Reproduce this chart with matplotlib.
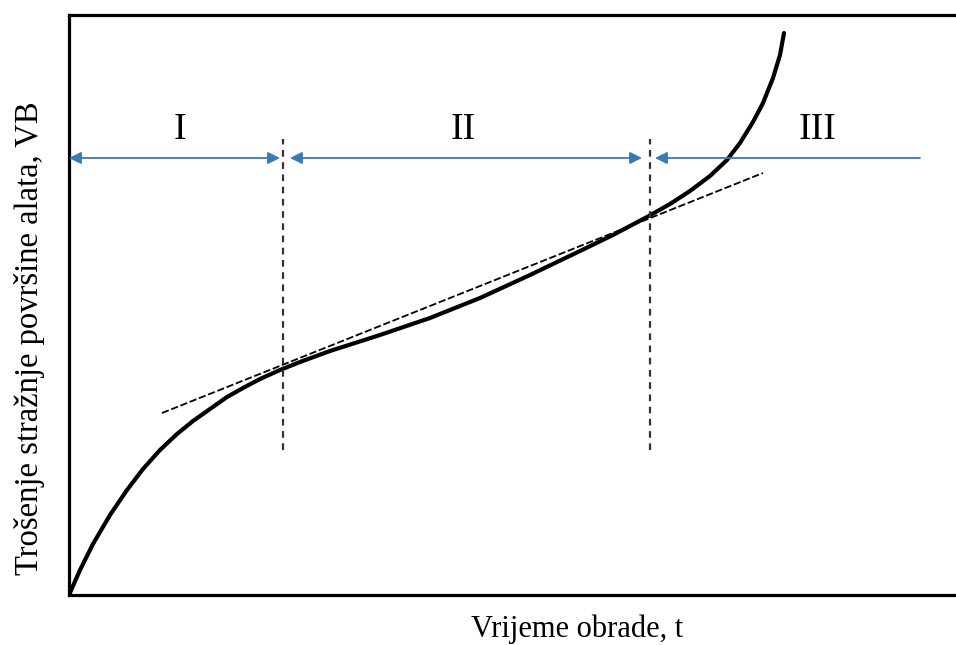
import matplotlib
matplotlib.use('Agg')
import matplotlib.pyplot as plt

# tool wear curve (arbitrary units)
time = [0, 11, 24, 41, 58, 74, 91, 108, 124, 141, 158, 174, 191, 211, 231, 261, 311,
        361, 411, 461, 511, 544, 578, 601, 621, 641, 658, 671, 684, 694, 704, 711, 715]
wear = [0, 25, 51, 80, 105, 126, 145, 161, 174, 186, 198, 207, 216, 225, 233, 244, 260,
        277, 297, 320, 344, 360, 378, 391, 404, 419, 435, 452, 473, 492, 517, 540, 562]

# tangent line of the steady-state region
tan_t = [93, 694]
tan_vb = [182, 422]

# zone boundaries and labels
bounds = [214, 581]
zone_names = ['I', 'II', 'III']
zone_x = [111, 394, 749]

blue = '#3b78b6'
serif = 'Liberation Serif'

fig = plt.figure(figsize=(9.56, 6.45), dpi=100)
ax = fig.add_axes([69 / 956, 50 / 645, 887 / 956, 580 / 645])
ax.set_xlim(0, 887)
ax.set_ylim(0, 580)

ax.plot(time, wear, color='black', lw=3, solid_capstyle='round', solid_joinstyle='round')
ax.plot(tan_t, tan_vb, color='black', lw=1.3, dashes=(4, 1.5))
for b in bounds:
    ax.plot([b, b], [145, 456], color='#333333', lw=1.6, dashes=(3, 2.5))

# arrows for the three zones
arrow_y = 437
ax.annotate('', xy=(0, arrow_y), xytext=(211, arrow_y),
            arrowprops=dict(arrowstyle='<|-|>', color=blue, lw=1.3, mutation_scale=18,
                            shrinkA=0, shrinkB=0))
ax.annotate('', xy=(221, arrow_y), xytext=(573, arrow_y),
            arrowprops=dict(arrowstyle='<|-|>', color=blue, lw=1.3, mutation_scale=18,
                            shrinkA=0, shrinkB=0))
ax.annotate('', xy=(586, arrow_y), xytext=(851, arrow_y),
            arrowprops=dict(arrowstyle='-|>', color=blue, lw=1.3, mutation_scale=18,
                            shrinkA=0, shrinkB=0))

for name, x in zip(zone_names, zone_x):
    ax.text(x, 465, name, family=serif, fontsize=27, ha='center', va='center')

ax.set_xticks([])
ax.set_yticks([])
ax.spines['right'].set_visible(False)
for s in ['left', 'bottom', 'top']:
    ax.spines[s].set_linewidth(2.3)

fig.text(577 / 956, 1 - 629 / 645, 'Vrijeme obrade, t', family=serif, fontsize=22,
         ha='center', va='center')
fig.text(30 / 956, 1 - 338 / 645, 'Trošenje stražnje površine alata, VB', family=serif,
         fontsize=23.5, ha='center', va='center', rotation=90)

fig.savefig('out.png', dpi=100)
